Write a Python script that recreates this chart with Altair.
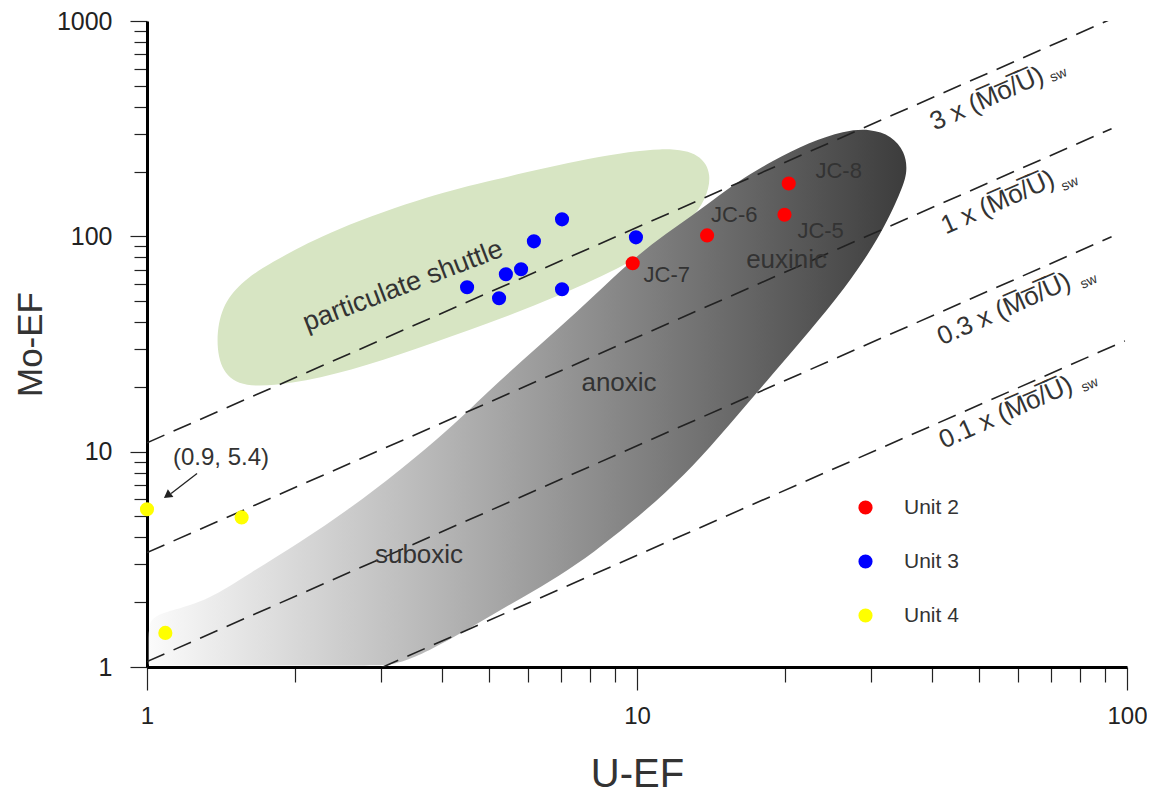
import altair as alt
import pandas as pd

# ---------------- data ----------------
unit2_u = [9.8, 13.9, 20.0, 20.4]
unit2_mo = [75.0, 101.0, 126.0, 176.0]
unit2_names = ["JC-7", "JC-6", "JC-5", "JC-8"]
unit2_label_u = [11.5, 15.8, 23.7, 25.8]
unit2_label_mo = [66.2, 125.1, 106.0, 202.0]

unit3_u = [4.5, 5.23, 5.4, 5.8, 6.16, 7.03, 7.03, 9.95]
unit3_mo = [58.0, 51.6, 66.7, 70.3, 94.8, 119.9, 56.8, 98.9]

unit4_u = [1.0, 1.56, 1.09]
unit4_mo = [5.4, 4.95, 1.44]

units = ["Unit 2", "Unit 3", "Unit 4"]
unit_colors = ["#ff0000", "#0000ff", "#ffff00"]

# (Mo/U)sw reference lines: start / end points
ratio_names = ["3 x", "1 x", "0.3 x", "0.1 x"]
ratio_u_start = [1.0, 1.0, 1.0, 3.0]
ratio_mo_start = [11.0, 3.4, 1.06, 0.99]
ratio_u_end = [92.0, 93.0, 93.0, 99.0]
ratio_mo_end = [1012.0, 316.0, 99.5, 32.7]
ratio_label_u = [51.8, 54.5, 56.1, 56.6]
ratio_label_mo = [435.5, 143.7, 45.9, 15.2]
ratio_sw_u = [72.5, 76.5, 83.6, 84.0]
ratio_sw_mo = [560.0, 175.0, 61.5, 20.4]

# field outlines
shuttle_u = [1.76, 2.40, 3.84, 4.94, 8.17, 11.46, 13.51, 14.22, 13.83, 12.83, 11.14,
             9.68, 6.93, 4.94, 3.54, 2.60, 1.96, 1.57, 1.42, 1.38, 1.42, 1.55]
shuttle_mo = [74.2, 107.8, 156.5, 179.8, 234.6, 261.0, 242.3, 193.6, 148.4, 117.3, 93.8,
              75.0, 52.8, 39.1, 30.0, 23.7, 20.6, 19.8, 23.2, 32.7, 47.4, 60.6]

redox_u = [1.008, 1.008, 1.008, 1.008, 1.04, 1.13, 1.33, 1.62, 2.05, 2.60, 3.28, 4.17,
           4.94, 5.85, 6.93, 8.17, 9.68, 11.46, 13.51, 16.0, 18.95, 22.4, 26.5, 29.9,
           33.1, 35.2, 35.7, 34.6, 31.3, 26.5, 22.4, 18.95, 16.0, 13.51, 11.46, 9.68,
           8.17, 6.93, 5.85, 4.94, 4.17, 3.54, 3.2, 3.0, 2.5, 1.8, 1.2, 1.03]
redox_mo = [1.016, 1.04, 1.3, 1.6, 1.73, 1.84, 2.04, 2.72, 3.79, 5.45, 8.17, 12.9,
            18.8, 26.7, 37.5, 52.8, 76.6, 103.2, 133.4, 179.8, 224.8, 272.4, 309.6, 316.0,
            293.6, 247.5, 200.0, 161.6, 98.9, 56.8, 35.9, 23.0, 14.7, 9.38, 6.46, 4.64,
            3.41, 2.64, 2.11, 1.69, 1.35, 1.11, 1.03, 1.016, 1.016, 1.016, 1.016, 1.016]

region_names = ["suboxic", "anoxic", "euxinic"]
region_u = [3.59, 9.19, 20.2]
region_mo = [3.30, 20.8, 77.8]

x_tick_values = [1, 2, 3, 4, 5, 6, 7, 8, 9, 10, 20, 30, 40, 50, 60, 70, 80, 90, 100]
y_tick_values = [1, 2, 3, 4, 5, 6, 7, 8, 9, 10, 20, 30, 40, 50, 60, 70, 80, 90,
                 100, 200, 300, 400, 500, 600, 700, 800, 900, 1000]

TXT = "#333333"
FONT = "Liberation Sans"
NARROW = "Liberation Sans Narrow, Liberation Sans"

# ---------------- tables ----------------
pts = pd.DataFrame({
    "u": unit2_u + unit3_u + unit4_u,
    "mo": unit2_mo + unit3_mo + unit4_mo,
    "unit": [units[0]] * len(unit2_u) + [units[1]] * len(unit3_u) + [units[2]] * len(unit4_u),
})

line_rows = []
for i, n in enumerate(ratio_names):
    line_rows.append({"ratio": n, "i": 0, "u": ratio_u_start[i], "mo": ratio_mo_start[i]})
    line_rows.append({"ratio": n, "i": 1, "u": ratio_u_end[i], "mo": ratio_mo_end[i]})
lines_df = pd.DataFrame(line_rows)

ov = "(M\u0305o\u0305/\u0305U\u0305)"
ratio_lab_df = pd.DataFrame({"u": ratio_label_u, "mo": ratio_label_mo,
                             "t": [n + " " + ov for n in ratio_names]})
sw_df = pd.DataFrame({"u": ratio_sw_u, "mo": ratio_sw_mo, "t": ["sw"] * 4})

shuttle_df = pd.DataFrame({"u": shuttle_u, "mo": shuttle_mo, "i": range(len(shuttle_u))})
redox_df = pd.DataFrame({"u": redox_u, "mo": redox_mo, "i": range(len(redox_u))})
region_df = pd.DataFrame({"u": region_u, "mo": region_mo, "t": region_names})
jc_df = pd.DataFrame({"u": unit2_label_u, "mo": unit2_label_mo, "t": unit2_names})
shuttle_lab = pd.DataFrame({"u": [3.33], "mo": [58.7], "t": ["particulate shuttle"]})
annot_df = pd.DataFrame({"u": [1.416], "mo": [9.38], "t": ["(0.9, 5.4)"]})
arrow_df = pd.DataFrame({"u": [1.265], "mo": [7.91], "u2": [1.12], "mo2": [6.40]})
head_df = pd.DataFrame({"u": [1.10], "mo": [6.25]})

# ---------------- scales / axes ----------------
x_scale = alt.Scale(type="log", domain=[1, 100], nice=False)
y_scale = alt.Scale(type="log", domain=[1, 1000], nice=False)

x_axis = alt.Axis(
    values=x_tick_values, grid=False, title="U-EF",
    labelExpr="indexof([1,10,100], datum.value) >= 0 ? '' + datum.value : ''",
    labelOverlap=False, labelFlush=False, labelBound=False,
    labelFont=NARROW, labelFontSize=24, labelColor="#222222", labelPadding=14,
    tickSize={"condition": {"test": "indexof([1,10,100], datum.value) >= 0", "value": 23}, "value": 15},
    tickColor="#222222", tickWidth=1.2,
    domainColor="#000000", domainWidth=3,
    titleFont=NARROW, titleFontSize=40, titleFontWeight="normal", titleColor=TXT, titlePadding=26,
)
y_axis = alt.Axis(
    values=y_tick_values, grid=False, title="Mo-EF",
    labelExpr="indexof([1,10,100,1000], datum.value) >= 0 ? '' + datum.value : ''",
    labelOverlap=False, labelFlush=False, labelBound=False,
    labelFont=FONT, labelFontSize=25, labelColor="#222222", labelPadding=18,
    tickSize={"condition": {"test": "indexof([1,10,100,1000], datum.value) >= 0", "value": 17}, "value": 13},
    tickColor="#222222", tickWidth=1.2,
    domainColor="#000000", domainWidth=3,
    titleFont=FONT, titleFontSize=35, titleFontWeight="normal", titleColor=TXT, titlePadding=8,
)


def X(f="u"):
    return alt.X(f"{f}:Q", scale=x_scale, axis=x_axis)


def Y(f="mo"):
    return alt.Y(f"{f}:Q", scale=y_scale, axis=y_axis)


gray_grad = alt.Gradient(
    gradient="linear", x1=0, x2=1, y1=0, y2=0,
    stops=[alt.GradientStop(color="#fbfbfb", offset=0),
           alt.GradientStop(color="#bababa", offset=0.36),
           alt.GradientStop(color="#3c3c3c", offset=1)],
)

shuttle = alt.Chart(shuttle_df).mark_line(
    filled=True, fill="#d7e5c3", interpolate="basis-closed", clip=True
).encode(x=X(), y=Y(), order=alt.Order("i:Q"))

redox = alt.Chart(redox_df).mark_line(
    filled=True, fill=gray_grad, interpolate="basis-closed", clip=True
).encode(x=X(), y=Y(), order=alt.Order("i:Q"))

ratio_lines = alt.Chart(lines_df).mark_line(
    color="#222222", strokeWidth=1.6, strokeDash=[19, 10], clip=True
).encode(x=X(), y=Y(), detail="ratio:N", order=alt.Order("i:Q"))

ratio_text = alt.Chart(ratio_lab_df).mark_text(
    font=FONT, fontSize=26, color=TXT, angle=336, align="center", baseline="middle"
).encode(x=X(), y=Y(), text="t:N")

sw_text = alt.Chart(sw_df).mark_text(
    font=FONT, fontSize=14, color=TXT, angle=336, align="center", baseline="middle"
).encode(x=X(), y=Y(), text="t:N")

region_text = alt.Chart(region_df).mark_text(
    font=FONT, fontSize=26, color=TXT, align="center", baseline="middle"
).encode(x=X(), y=Y(), text="t:N")

shuttle_text = alt.Chart(shuttle_lab).mark_text(
    font=FONT, fontSize=27, color=TXT, angle=339, align="center", baseline="middle"
).encode(x=X(), y=Y(), text="t:N")

jc_text = alt.Chart(jc_df).mark_text(
    font=FONT, fontSize=22, color=TXT, align="center", baseline="middle"
).encode(x=X(), y=Y(), text="t:N")

annot_text = alt.Chart(annot_df).mark_text(
    font=FONT, fontSize=24, color=TXT, align="center", baseline="middle"
).encode(x=X(), y=Y(), text="t:N")

arrow = alt.Chart(arrow_df).mark_rule(color="#222222", strokeWidth=1.3).encode(
    x=X(), y=Y(), x2="u2:Q", y2="mo2:Q")

head = alt.Chart(head_df).mark_point(
    shape="triangle-up", filled=True, color="#222222", size=90, angle=234, opacity=1
).encode(x=X(), y=Y())

points = alt.Chart(pts).mark_circle(size=200, opacity=1).encode(
    x=X(), y=Y(),
    color=alt.Color(
        "unit:N",
        scale=alt.Scale(domain=units, range=unit_colors),
        legend=alt.Legend(
            orient="none", legendX=708, legendY=476, title=None,
            symbolType="circle", symbolSize=200, symbolStrokeWidth=0,
            labelFont=FONT, labelFontSize=21, labelColor=TXT, labelOffset=28,
            rowPadding=32, padding=0,
        ),
    ),
)

chart = alt.layer(
    shuttle, redox, ratio_lines, region_text, shuttle_text, ratio_text, sw_text,
    jc_text, annot_text, arrow, head, points
).properties(
    width=980, height=646,
    autosize=alt.AutoSizeParams(type="none"),
    padding={"left": 139, "top": 13, "right": 20, "bottom": 126},
).configure_view(stroke=None)

chart.save("out.html", embed_options={"renderer": "svg", "actions": False})
